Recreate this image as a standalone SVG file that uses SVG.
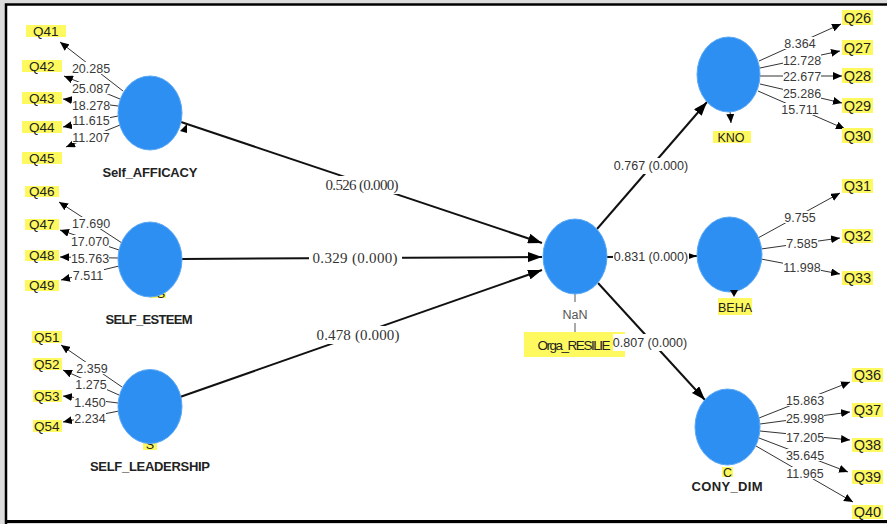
<svg xmlns="http://www.w3.org/2000/svg" width="887" height="524" viewBox="0 0 887 524">
<defs>
<marker id="ah" viewBox="0 0 10 10" refX="10" refY="5" markerWidth="9" markerHeight="8" markerUnits="userSpaceOnUse" orient="auto" preserveAspectRatio="none"><path d="M0,0L10,5L0,10z" fill="#000"/></marker>
<marker id="as" viewBox="0 0 10 10" refX="10" refY="5" markerWidth="14" markerHeight="10" markerUnits="userSpaceOnUse" orient="auto" preserveAspectRatio="none"><path d="M0,0L10,5L0,10z" fill="#000"/></marker>
<style>
.il{stroke:#333;stroke-width:1;fill:none;marker-end:url(#ah)}
.sl{stroke:#111;stroke-width:2;fill:none;marker-end:url(#as)}
.lv{fill:#2E8FF2;stroke:#5aa8f5;stroke-width:1}
.yb{fill:#FFF960}
.bg{fill:#fff}
.q{font-family:"Liberation Sans",Arial,sans-serif;font-size:13.5px;fill:#222}
.qr{font-family:"Liberation Sans",Arial,sans-serif;font-size:14.5px;fill:#222;text-anchor:middle}
.ld{font-family:"Liberation Sans",Arial,sans-serif;font-size:12.5px;fill:#3a3a3a;text-anchor:middle}
.pc{font-family:"Liberation Sans",Arial,sans-serif;font-size:12.5px;fill:#333;text-anchor:middle}
.ps{font-family:"Liberation Serif","Times New Roman",serif;font-size:15px;fill:#333;text-anchor:middle}
.nm{font-family:"Liberation Sans",Arial,sans-serif;font-size:13px;font-weight:bold;fill:#222;text-anchor:middle}
.cl{font-family:"Liberation Sans",Arial,sans-serif;font-size:12.5px;fill:#222;text-anchor:middle}
</style>
</defs>
<rect x="0" y="0" width="887" height="524" fill="#dcdcdc"/>
<rect x="7" y="5" width="880" height="515" fill="#fff"/>
<path d="M6,524V4.5H887" stroke="#000" stroke-width="2.5" fill="none"/>
<path d="M6,521.5H887" stroke="#000" stroke-width="3" fill="none"/>

<g id="connectors">
<line class="il" x1="123" y1="91" x2="60" y2="42"/>
<line class="il" x1="120" y1="99" x2="64" y2="76"/>
<line class="il" x1="118" y1="106" x2="63" y2="99"/>
<line class="il" x1="118" y1="116" x2="63" y2="127"/>
<line class="il" x1="120" y1="125" x2="66" y2="147"/>
<line class="il" x1="122" y1="243" x2="59" y2="202"/>
<line class="il" x1="119" y1="250" x2="60" y2="230"/>
<line class="il" x1="118" y1="258" x2="60" y2="257"/>
<line class="il" x1="119" y1="266" x2="61" y2="280"/>
<line class="il" x1="122" y1="387" x2="61" y2="345"/>
<line class="il" x1="119" y1="395" x2="63" y2="370"/>
<line class="il" x1="118" y1="403" x2="63" y2="396"/>
<line class="il" x1="119" y1="411" x2="63" y2="422"/>
<line class="il" x1="759" y1="61" x2="841" y2="24"/>
<line class="il" x1="760" y1="68" x2="840" y2="51"/>
<line class="il" x1="760" y1="76" x2="842" y2="76"/>
<line class="il" x1="760" y1="84" x2="842" y2="103"/>
<line class="il" x1="758" y1="91" x2="845" y2="129"/>
<line class="il" x1="758" y1="238" x2="840" y2="193"/>
<line class="il" x1="761" y1="249" x2="840" y2="238"/>
<line class="il" x1="761" y1="259" x2="840" y2="274"/>
<line class="il" x1="759" y1="418" x2="850" y2="382"/>
<line class="il" x1="760" y1="424" x2="850" y2="412"/>
<line class="il" x1="760" y1="431" x2="850" y2="440"/>
<line class="il" x1="759" y1="438" x2="848" y2="472"/>
<line class="il" x1="756" y1="446" x2="853" y2="502"/>
<line class="il" x1="730" y1="111" x2="731" y2="123"/>
<line class="sl" x1="181" y1="122" x2="542" y2="243"/>
<line class="sl" x1="182" y1="259" x2="542" y2="257"/>
<line class="sl" x1="180" y1="397" x2="542" y2="270"/>
<line class="sl" x1="597" y1="229" x2="707" y2="102"/>
<line class="sl" x1="607" y1="257" x2="697" y2="256"/>
<line class="sl" x1="598" y1="283" x2="705" y2="400"/>
<path d="M575,294V302M575,323V332" stroke="#555" stroke-width="1"/>
</g>

<g id="Q41"><rect class="yb" x="26" y="25" width="40" height="12"/><text class="q" x="33" y="36">Q41</text></g>
<g id="Q42"><rect class="yb" x="22" y="60" width="40" height="12"/><text class="q" x="29" y="71">Q42</text></g>
<g id="Q43"><rect class="yb" x="22" y="92" width="40" height="12"/><text class="q" x="29" y="103">Q43</text></g>
<g id="Q44"><rect class="yb" x="22" y="121" width="40" height="12"/><text class="q" x="29" y="132">Q44</text></g>
<g id="Q45"><rect class="yb" x="22" y="152" width="40" height="12"/><text class="q" x="29" y="163">Q45</text></g>
<g id="Q46"><rect class="yb" x="25" y="186" width="34" height="11"/><text class="q" x="29" y="196">Q46</text></g>
<g id="Q47"><rect class="yb" x="25" y="219" width="34" height="11"/><text class="q" x="29" y="229">Q47</text></g>
<g id="Q48"><rect class="yb" x="25" y="250" width="34" height="11"/><text class="q" x="29" y="260">Q48</text></g>
<g id="Q49"><rect class="yb" x="25" y="280" width="34" height="11"/><text class="q" x="29" y="290">Q49</text></g>
<g id="Q51"><rect class="yb" x="32" y="331" width="30" height="12"/><text class="q" x="34" y="342">Q51</text></g>
<g id="Q52"><rect class="yb" x="33" y="358" width="29" height="12"/><text class="q" x="34" y="369">Q52</text></g>
<g id="Q53"><rect class="yb" x="33" y="390" width="29" height="12"/><text class="q" x="34" y="401">Q53</text></g>
<g id="Q54"><rect class="yb" x="33" y="420" width="29" height="12"/><text class="q" x="34" y="431">Q54</text></g>

<g id="Q26"><rect class="yb" x="842" y="10" width="31" height="15"/><text class="qr" x="857.5" y="23">Q26</text></g>
<g id="Q27"><rect class="yb" x="842" y="40" width="31" height="15"/><text class="qr" x="857.5" y="53">Q27</text></g>
<g id="Q28"><rect class="yb" x="842" y="68" width="31" height="15"/><text class="qr" x="857.5" y="81">Q28</text></g>
<g id="Q29"><rect class="yb" x="842" y="98" width="31" height="15"/><text class="qr" x="857.5" y="111">Q29</text></g>
<g id="Q30"><rect class="yb" x="842" y="128" width="31" height="15"/><text class="qr" x="857.5" y="141">Q30</text></g>
<g id="Q31"><rect class="yb" x="842" y="179" width="31" height="14"/><text class="qr" x="857.5" y="191">Q31</text></g>
<g id="Q32"><rect class="yb" x="842" y="229" width="31" height="14"/><text class="qr" x="857.5" y="241">Q32</text></g>
<g id="Q33"><rect class="yb" x="842" y="271" width="31" height="14"/><text class="qr" x="857.5" y="283">Q33</text></g>
<g id="Q36"><rect class="yb" x="852" y="368" width="31" height="14"/><text class="qr" x="867.5" y="380">Q36</text></g>
<g id="Q37"><rect class="yb" x="852" y="403" width="31" height="14"/><text class="qr" x="867.5" y="415">Q37</text></g>
<g id="Q38"><rect class="yb" x="852" y="438" width="31" height="14"/><text class="qr" x="867.5" y="450">Q38</text></g>
<g id="Q39"><rect class="yb" x="852" y="470" width="31" height="14"/><text class="qr" x="867.5" y="482">Q39</text></g>
<g id="Q40"><rect class="yb" x="852" y="505" width="31" height="14"/><text class="qr" x="867.5" y="517">Q40</text></g>

<g id="Self_AFFICACY">
<ellipse class="lv" cx="150" cy="113" rx="32" ry="37"/>
<polygon points="180,131 187,124 187,133" fill="#000"/>
<text class="nm" x="150" y="177" textLength="95">Self_AFFICACY</text>
</g>
<g id="SELF_ESTEEM">
<rect class="yb" x="150" y="286" width="16" height="12"/><text class="cl" x="161" y="298">S</text>
<ellipse class="lv" cx="150" cy="259.5" rx="32" ry="37.5"/>
<text class="nm" x="149" y="324" textLength="87">SELF_ESTEEM</text>
</g>
<g id="SELF_LEADERSHIP">
<rect class="yb" x="143" y="436" width="14" height="14"/><text class="cl" x="150" y="449">S</text>
<ellipse class="lv" cx="150" cy="406.5" rx="32" ry="37"/>
<text class="nm" x="150" y="471" textLength="120">SELF_LEADERSHIP</text>
</g>
<g id="Orga_RESILIE">
<ellipse class="lv" cx="575" cy="256.5" rx="32" ry="37.5"/>
<text class="pc" x="575" y="319" style="fill:#555">NaN</text>
<rect class="yb" x="524" y="332" width="101" height="25"/>
<text class="cl" x="574" y="350" style="font-size:13.5px" textLength="73">Orga_RESILIE</text>
</g>
<g id="KNO">
<ellipse class="lv" cx="728.5" cy="74.5" rx="31.5" ry="37.5"/>
<rect class="yb" x="713" y="131" width="38" height="12"/>
<text class="cl" x="731" y="142">KNO</text>
</g>
<g id="BEHA">
<ellipse class="lv" cx="729.5" cy="254.5" rx="32.5" ry="37.5"/>
<polygon points="730,290 738,290 734,297" fill="#000"/>
<rect class="yb" x="718" y="298" width="34" height="17"/>
<text class="cl" x="735" y="312">BEHA</text>
</g>
<g id="CONY_DIM">
<ellipse class="lv" cx="727.5" cy="427" rx="32.5" ry="38"/>
<rect class="yb" x="722" y="467" width="11" height="10"/>
<text class="cl" x="727.5" y="477">C</text>
<text class="nm" x="727" y="491" textLength="71">CONY_DIM</text>
</g>

<g id="labels">
<rect class="bg" x="72" y="62" width="38" height="12"/><text class="ld" x="91" y="72.5">20.285</text>
<rect class="bg" x="72" y="82" width="38" height="12"/><text class="ld" x="91" y="92.5">25.087</text>
<rect class="bg" x="72" y="99" width="38" height="12"/><text class="ld" x="91" y="109.5">18.278</text>
<rect class="bg" x="72" y="114" width="38" height="12"/><text class="ld" x="91" y="124.5">11.615</text>
<rect class="bg" x="72" y="131" width="38" height="12"/><text class="ld" x="91" y="141.5">11.207</text>
<rect class="bg" x="72" y="217" width="38" height="12"/><text class="ld" x="91" y="227.5">17.690</text>
<rect class="bg" x="71" y="235" width="38" height="12"/><text class="ld" x="90" y="245.5">17.070</text>
<rect class="bg" x="71" y="252" width="38" height="12"/><text class="ld" x="90" y="262.5">15.763</text>
<rect class="bg" x="72" y="269" width="32" height="12"/><text class="ld" x="88" y="279.5">7.511</text>
<rect class="bg" x="76" y="362" width="32" height="12"/><text class="ld" x="92" y="372.5">2.359</text>
<rect class="bg" x="75" y="378" width="32" height="12"/><text class="ld" x="91" y="388.5">1.275</text>
<rect class="bg" x="74" y="396" width="32" height="12"/><text class="ld" x="90" y="406.5">1.450</text>
<rect class="bg" x="74" y="412" width="32" height="12"/><text class="ld" x="90" y="422.5">2.234</text>
<rect class="bg" x="784" y="37" width="32" height="12"/><text class="ld" x="800" y="47.5">8.364</text>
<rect class="bg" x="783" y="54" width="38" height="12"/><text class="ld" x="802" y="64.5">12.728</text>
<rect class="bg" x="783" y="70" width="38" height="12"/><text class="ld" x="802" y="80.5">22.677</text>
<rect class="bg" x="783" y="87" width="38" height="12"/><text class="ld" x="802" y="97.5">25.286</text>
<rect class="bg" x="781" y="103" width="38" height="12"/><text class="ld" x="800" y="113.5">15.711</text>
<rect class="bg" x="784" y="211" width="32" height="12"/><text class="ld" x="800" y="221.5">9.755</text>
<rect class="bg" x="786" y="237" width="32" height="12"/><text class="ld" x="802" y="247.5">7.585</text>
<rect class="bg" x="783" y="261" width="38" height="12"/><text class="ld" x="802" y="271.5">11.998</text>
<rect class="bg" x="786" y="394" width="38" height="12"/><text class="ld" x="805" y="404.5">15.863</text>
<rect class="bg" x="786" y="412" width="38" height="12"/><text class="ld" x="805" y="422.5">25.998</text>
<rect class="bg" x="786" y="431" width="38" height="12"/><text class="ld" x="805" y="441.5">17.205</text>
<rect class="bg" x="786" y="449" width="38" height="12"/><text class="ld" x="805" y="459.5">35.645</text>
<rect class="bg" x="786" y="467" width="38" height="12"/><text class="ld" x="805" y="477.5">11.965</text>
<rect class="bg" x="322" y="176" width="80" height="18"/><text class="ps" x="362" y="190" textLength="73">0.526 (0.000)</text>
<rect class="bg" x="309" y="249" width="93" height="18"/><text class="ps" x="355" y="263" textLength="85">0.329 (0.000)</text>
<rect class="bg" x="314" y="326" width="89" height="18"/><text class="ps" x="358" y="340" textLength="83">0.478 (0.000)</text>
<rect class="bg" x="614" y="158" width="74" height="16"/><text class="pc" x="651" y="170">0.767 (0.000)</text>
<rect class="bg" x="613" y="249" width="76" height="16"/><text class="pc" x="651" y="261">0.831 (0.000)</text>
<rect class="bg" x="613" y="334" width="76" height="17"/><text class="pc" x="650" y="347">0.807 (0.000)</text>
</g>
</svg>
